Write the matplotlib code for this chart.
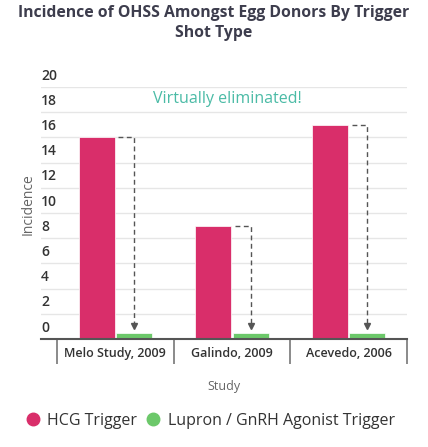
import numpy as np
import matplotlib.pyplot as plt
from matplotlib.lines import Line2D
import matplotlib.transforms as mtransforms

plt.rcParams['font.family'] = ['Open Sans', 'DejaVu Sans']

# datos
studies = ['Melo Study, 2009', 'Galindo, 2009', 'Acevedo, 2006']
hcg = [16, 9, 17]
lupron = [0.5, 0.5, 0.5]
y_ticks = [0, 2, 4, 6, 8, 10, 12, 14, 16, 18, 20]

c_hcg = '#d92e6a'
c_lup = '#6cc86a'
c_axis = '#555555'

fig = plt.figure(figsize=(4.28, 4.47), dpi=100)
ax = fig.add_axes([41 / 428, 1 - 339 / 447, 366 / 428, 252 / 447])

x = np.arange(len(studies))
w = 0.31
off = 0.16
ax.bar(x - off, hcg, w, color=c_hcg, edgecolor='white', linewidth=0.5, zorder=3)
ax.bar(x + off, lupron, w, color=c_lup, edgecolor='white', linewidth=0.5, zorder=3)

# flechas punteadas desde HCG hasta Lupron
for xi, h, l in zip(x, hcg, lupron):
    ax.plot([xi - off + w / 2 + 0.03, xi + off, xi + off], [h, h, l + 0.5],
            color=c_axis, lw=1, dashes=(3.5, 2.5), zorder=4)
    ax.plot([xi + off], [l + 0.5], marker='v', color=c_axis, markersize=4.5,
            ls='', zorder=4)

ax.text(0.96, 19.05, 'Virtually eliminated!', color='#4bbba6', fontsize=11.5,
        ha='center', va='center', zorder=5)

ax.set_xlim(-0.637, 2.5)
ax.set_ylim(0, 20)

# rejilla y etiquetas del eje y
for t in y_ticks[1:]:
    ax.axhline(t, color='#e6e6e6', lw=1, zorder=1)
ax.axhline(0, color=c_axis, lw=1.5, zorder=5, clip_on=False)
ax.set_yticks([])
trans = mtransforms.blended_transform_factory(ax.transAxes, ax.transData)
for t in y_ticks:
    ax.text(0.0, t + 0.35, str(t), transform=trans, ha='left', va='bottom',
            fontsize=10, color='#333333', fontweight='semibold')

for s in ax.spines.values():
    s.set_visible(False)

ax.set_xticks(x)
ax.set_xticklabels(studies, fontsize=9, color='#333333', fontweight='semibold')
ax.tick_params(axis='x', length=0, pad=6)
ax.set_xticks([-0.5, 0.5, 1.5, 2.5], minor=True)
ax.tick_params(axis='x', which='minor', length=18, width=1.2, color='#777777')

ax.set_xlabel('Study', fontsize=9, color='#666666', labelpad=8)
fig.text(28 / 428, 1 - 204 / 447, 'Incidence', rotation=90, fontsize=10,
         color='#666666', ha='center', va='center')

fig.suptitle('Incidence of OHSS Amongst Egg Donors By Trigger\nShot Type',
             x=0.5, y=1 - 5 / 447, fontsize=11.3, fontweight='bold',
             color='#3d3d4d', va='top', linespacing=1.35)

handles = [Line2D([], [], marker='o', ls='', color=c_hcg, markersize=9),
           Line2D([], [], marker='o', ls='', color=c_lup, markersize=9)]
fig.legend(handles, ['HCG Trigger', 'Lupron / GnRH Agonist Trigger'],
           loc='center', bbox_to_anchor=(0.49, 1 - 421 / 447), ncol=2,
           frameon=False, fontsize=11.5, handletextpad=0.4, columnspacing=0.5,
           labelcolor='#333333', handlelength=1.0)

fig.savefig('out.png', dpi=100)
